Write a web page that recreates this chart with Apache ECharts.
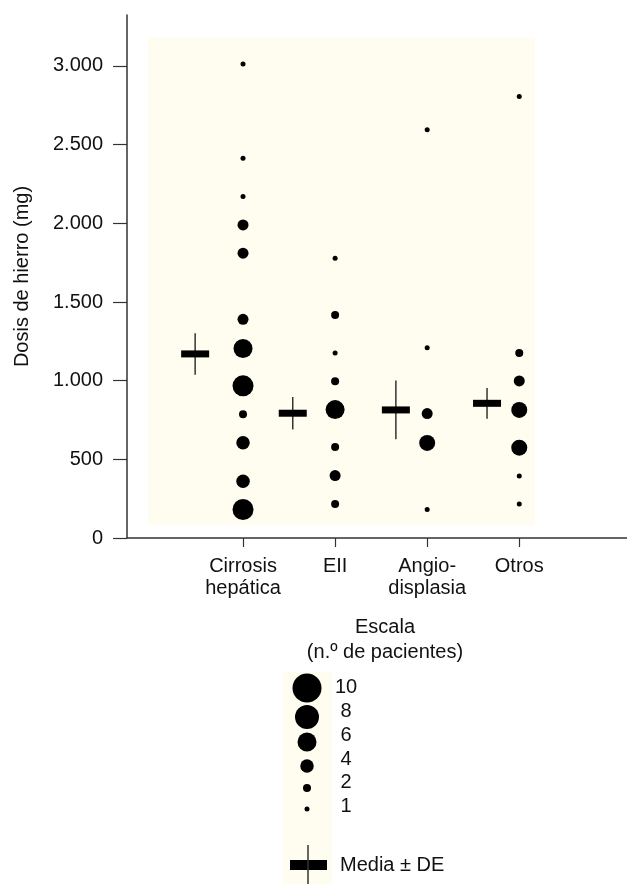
<!DOCTYPE html>
<html>
<head>
<meta charset="utf-8">
<script src="https://cdn.jsdelivr.net/npm/echarts@6/dist/echarts.min.js"></script>
<style>
html,body{margin:0;padding:0;background:#fff;}
#chart{width:627px;height:884px;}
</style>
</head>
<body>
<div id="chart"></div>
<script>
// ---------- data ----------
const categories = ['Cirrosis\nhepática', 'EII', 'Angio-\ndisplasia', 'Otros'];
const yTicks = [0, 500, 1000, 1500, 2000, 2500, 3000];

const cirrosisDoses  = [3013, 2414, 2170, 1990, 1810, 1390, 1204, 967, 786, 606, 361, 181];
const cirrosisCounts = [1, 1, 1, 3, 3, 3, 6, 7, 2, 4, 4, 7];
const eiiDoses       = [1778, 1418, 1176, 996, 816, 578, 397, 216];
const eiiCounts      = [1, 2, 1, 2, 6, 2, 3, 2];
const angioDoses     = [2594, 1209, 791, 604, 181];
const angioCounts    = [1, 1, 3, 5, 1];
const otrosDoses     = [2806, 1176, 998, 814, 574, 394, 216];
const otrosCounts    = [1, 2, 3, 5, 5, 1, 1];

const means        = [1170, 793, 814, 856];
const sds          = [132, 103, 187, 98];
const crossOffsets = [-0.52, -0.46, -0.34, -0.35];

const legendCounts = [10, 8, 6, 4, 2, 1];

// ---------- styling ----------
const FONT = '"Liberation Sans", Arial, Helvetica, sans-serif';
const TXT = '#111';
const PANEL = '#fefdf0';
const sizeTable = {1: 5, 2: 8, 3: 11, 4: 13.5, 5: 16, 6: 19, 7: 21, 8: 24, 10: 29};
function sizeOf(n) { return sizeTable[n] || (2.8 * n + 1); }

const groups = [
  [cirrosisDoses, cirrosisCounts],
  [eiiDoses, eiiCounts],
  [angioDoses, angioCounts],
  [otrosDoses, otrosCounts]
];

const scatterSeries = groups.map((g, i) => ({
  type: 'scatter',
  name: categories[i],
  data: g[0].map((v, k) => [i + 1, v, g[1][k]]),
  symbol: 'circle',
  symbolSize: d => sizeOf(d[2]),
  itemStyle: { color: '#000', opacity: 1 },
  silent: true,
  z: 3
}));

const crossSeries = {
  type: 'custom',
  data: categories.map((c, i) => [i + 1 + crossOffsets[i], means[i], sds[i]]),
  encode: { x: 0, y: 1 },
  silent: true,
  z: 4,
  renderItem: function (params, api) {
    const x = api.value(0), m = api.value(1), sd = api.value(2);
    const c = api.coord([x, m]);
    const t = api.coord([x, m + sd]);
    const b = api.coord([x, m - sd]);
    return {
      type: 'group',
      children: [
        { type: 'line', shape: { x1: c[0], y1: t[1], x2: c[0], y2: b[1] }, style: { stroke: '#333', lineWidth: 1.5 } },
        { type: 'rect', shape: { x: c[0] - 14, y: c[1] - 3.5, width: 28, height: 7 }, style: { fill: '#000' } }
      ]
    };
  }
};

// legend graphics
const legendBubbleY = [688, 717, 742, 766, 788, 809];
const legendLabelY = [687, 711, 735, 759, 782, 806];
const graphics = [
  { type: 'rect', z: -10, shape: { x: 148, y: 38, width: 387, height: 487 }, style: { fill: PANEL } },
  { type: 'rect', z: -10, shape: { x: 283, y: 672, width: 49, height: 212 }, style: { fill: PANEL } },
  { type: 'text', x: 385, y: 627, style: { text: 'Escala', font: '20px ' + FONT, fill: TXT, align: 'center', verticalAlign: 'middle' } },
  { type: 'text', x: 385, y: 652, style: { text: '(n.º de pacientes)', font: '20px ' + FONT, fill: TXT, align: 'center', verticalAlign: 'middle' } },
  { type: 'rect', shape: { x: 290, y: 860, width: 37, height: 10 }, style: { fill: '#000' } },
  { type: 'line', shape: { x1: 308, y1: 845, x2: 308, y2: 884 }, style: { stroke: '#333', lineWidth: 1.5 } },
  { type: 'text', x: 340, y: 865, style: { text: 'Media ± DE', font: '20px ' + FONT, fill: TXT, align: 'left', verticalAlign: 'middle' } }
];
legendCounts.forEach((n, i) => {
  graphics.push({ type: 'circle', shape: { cx: 307, cy: legendBubbleY[i], r: sizeOf(n) / 2 }, style: { fill: '#000' } });
  graphics.push({ type: 'text', x: 346, y: legendLabelY[i], style: { text: String(n), font: '20px ' + FONT, fill: TXT, align: 'center', verticalAlign: 'middle' } });
});

const chart = echarts.init(document.getElementById('chart'), null, { renderer: 'canvas' });
chart.setOption({
  animation: false,
  backgroundColor: '#fff',
  textStyle: { fontFamily: FONT, color: TXT },
  grid: { left: 127, right: 0, top: 15, bottom: 346, containLabel: false, outerBoundsMode: 'none' },
  xAxis: {
    type: 'value',
    min: -0.26,
    max: 5.17,
    axisLine: { show: true, onZero: false, lineStyle: { color: '#333', width: 1.5 } },
    axisTick: { show: true, customValues: [1, 2, 3, 4], length: 9, lineStyle: { color: '#333', width: 1.2 } },
    axisLabel: {
      customValues: [1, 2, 3, 4],
      formatter: v => categories[Math.round(v) - 1] || '',
      fontSize: 20, color: TXT, fontFamily: FONT, margin: 17, lineHeight: 22
    },
    splitLine: { show: false }
  },
  yAxis: {
    type: 'value',
    min: 0,
    max: 3324,
    name: 'Dosis de hierro (mg)',
    nameLocation: 'middle',
    nameGap: 95,
    nameRotate: 90,
    nameTextStyle: { fontSize: 20, color: TXT, fontFamily: FONT },
    axisLine: { show: true, onZero: false, lineStyle: { color: '#333', width: 1.5 } },
    axisTick: { show: true, customValues: yTicks, length: 14, lineStyle: { color: '#333', width: 1.2 } },
    axisLabel: {
      customValues: yTicks,
      formatter: v => String(v).replace(/\B(?=(\d{3})+(?!\d))/g, '.'),
      fontSize: 20, color: TXT, fontFamily: FONT, margin: 24
    },
    splitLine: { show: false }
  },
  graphic: graphics,
  series: scatterSeries.concat([crossSeries])
});
</script>
</body>
</html>
